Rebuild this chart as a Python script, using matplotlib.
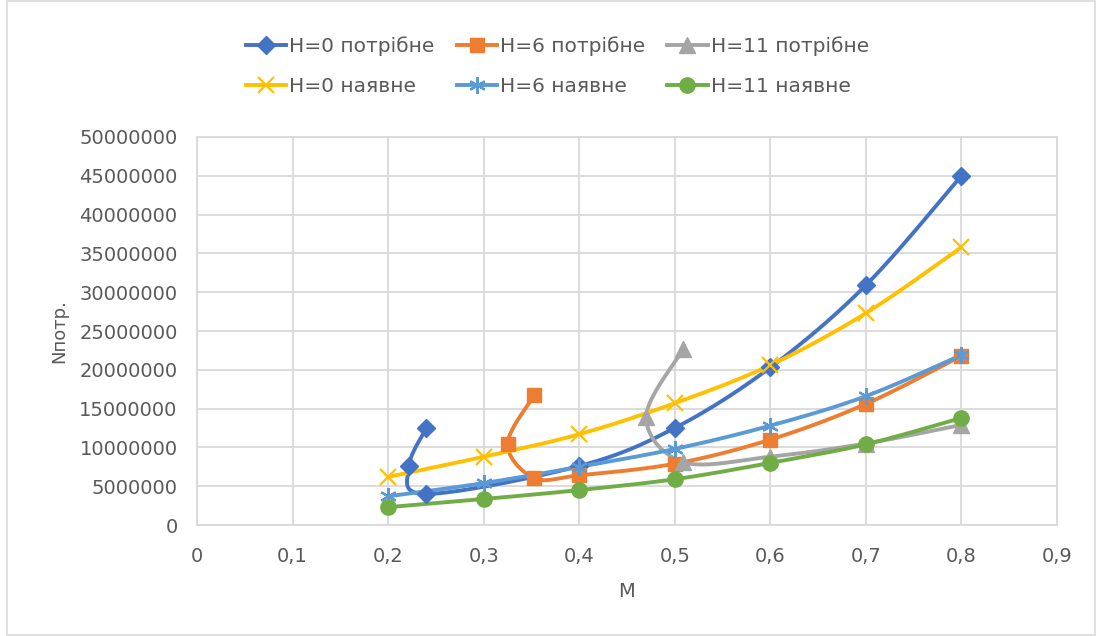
import numpy as np
import matplotlib.pyplot as plt
from matplotlib.patches import Rectangle

# M values and power (N) for each altitude; "потрібне" curves fold back at low M
m_h0_req = [0.24, 0.222, 0.24, 0.4, 0.5, 0.6, 0.7, 0.8]
n_h0_req = [12.5e6, 7.6e6, 4.0e6, 7.6e6, 12.5e6, 20.3e6, 30.9e6, 45.0e6]

m_h6_req = [0.353, 0.325, 0.353, 0.4, 0.5, 0.6, 0.7, 0.8]
n_h6_req = [16.75e6, 10.4e6, 6.05e6, 6.4e6, 7.9e6, 11.0e6, 15.6e6, 21.8e6]

m_h11_req = [0.509, 0.47, 0.509, 0.6, 0.7, 0.8]
n_h11_req = [22.7e6, 13.9e6, 8.1e6, 8.8e6, 10.5e6, 12.9e6]

m_avail = [0.2, 0.3, 0.4, 0.5, 0.6, 0.7, 0.8]
n_h0_av = [6.2e6, 8.8e6, 11.7e6, 15.7e6, 20.6e6, 27.3e6, 35.8e6]
n_h6_av = [3.7e6, 5.4e6, 7.5e6, 9.8e6, 12.8e6, 16.6e6, 21.9e6]
n_h11_av = [2.3e6, 3.35e6, 4.5e6, 5.9e6, 8.0e6, 10.4e6, 13.8e6]

labels = ["H=0 потрібне", "H=6 потрібне", "H=11 потрібне",
          "H=0 наявне", "H=6 наявне", "H=11 наявне"]


def smooth(x, y, n=40):
    # Catmull-Rom style bezier through the points (like a smoothed spreadsheet line)
    p = np.column_stack([x, y]).astype(float)
    ext = np.vstack([p[0], p, p[-1]])
    t = np.linspace(0, 1, n)[:, None]
    out = []
    for i in range(1, len(ext) - 2):
        p0, p1, p2, p3 = ext[i - 1], ext[i], ext[i + 1], ext[i + 2]
        c1 = p1 + (p2 - p0) / 6
        c2 = p2 - (p3 - p1) / 6
        seg = ((1 - t) ** 3) * p1 + 3 * ((1 - t) ** 2) * t * c1 \
            + 3 * (1 - t) * t ** 2 * c2 + t ** 3 * p2
        out.append(seg if i == 1 else seg[1:])
    s = np.vstack(out)
    return s[:, 0], s[:, 1]


plt.rcParams['font.family'] = ['DejaVu Sans']
fig = plt.figure(figsize=(10.97, 6.36), dpi=100)
ax = fig.add_axes([0.1796, 0.1745, 0.7839, 0.6101])

fig.patches.append(Rectangle((0.006, 0.002), 0.992, 0.996, transform=fig.transFigure,
                             fill=False, edgecolor="#d9d9d9", lw=1.2))

series = [
    (m_h0_req, n_h0_req, "#4472c4", "D", 9, {}),
    (m_h6_req, n_h6_req, "#ed7d31", "s", 10, {}),
    (m_h11_req, n_h11_req, "#a5a5a5", "^", 11, {}),
    (m_avail, n_h0_av, "#ffc000", "x", 11, {"mew": 1.6}),
    (m_avail, n_h6_av, "#5b9bd5", (6, 2, 0), 12, {"mew": 1.6}),
    (m_avail, n_h11_av, "#70ad47", "o", 11, {}),
]

handles = []
for (xs, ys, col, mk, ms, kw), lab in zip(series, labels):
    sx, sy = smooth(xs, ys)
    ax.plot(sx, sy, color=col, lw=2.8, solid_capstyle="round", zorder=3)
    ax.plot(xs, ys, ls="none", marker=mk, ms=ms, color=col, zorder=4, **kw)
    h, = ax.plot([], [], color=col, lw=2.8, marker=mk, ms=ms, **kw)
    h.set_label(lab)
    handles.append(h)

ax.set_xlim(0, 0.9)
ax.set_ylim(0, 50e6)
ax.set_xticks(np.arange(0, 0.91, 0.1))
ax.set_xticklabels(["0"] + [f"0,{i}" for i in range(1, 10)])
ax.set_yticks(np.arange(0, 50e6 + 1, 5e6))
ax.set_yticklabels([f"{int(v)}" for v in np.arange(0, 50e6 + 1, 5e6)])
ax.tick_params(axis="y", length=0, labelsize=14, colors="#595959", pad=14)
ax.tick_params(axis="x", length=0, labelsize=14, colors="#595959", pad=16)
ax.grid(True, color="#d9d9d9", lw=1.3)
ax.set_axisbelow(True)
for sp in ax.spines.values():
    sp.set_color("#d9d9d9")
    sp.set_linewidth(1.3)

ax.set_xlabel("M", fontsize=14, color="#595959", labelpad=11)
ax.set_ylabel("Nпотр.", fontsize=13, color="#595959", labelpad=8)

order = [0, 3, 1, 4, 2, 5]
fig.legend([handles[i] for i in order], [labels[i] for i in order],
           loc="upper center", bbox_to_anchor=(0.508, 0.972), ncol=3,
           frameon=False, fontsize=14.5, handlelength=2.0, handletextpad=0.15,
           columnspacing=1.1, labelspacing=1.05, labelcolor="#595959")

fig.savefig("out.png", dpi=100)
